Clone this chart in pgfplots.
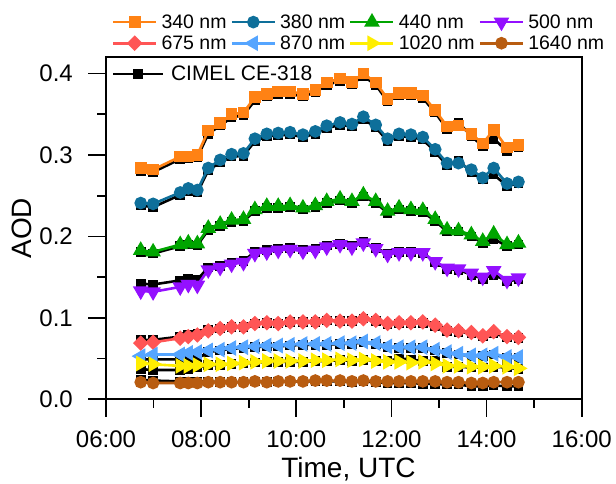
\documentclass[border=0pt]{standalone}
\usepackage{fontspec}
\setmainfont{Liberation Sans}
\usepackage{pgfplots}
\usepackage{pgfplotstable}
\pgfplotsset{compat=1.18}
\definecolor{c340}{HTML}{FF8214}
\definecolor{c380}{HTML}{0E6F9A}
\definecolor{c440}{HTML}{00A500}
\definecolor{c500}{HTML}{9410FF}
\definecolor{c675}{HTML}{FF5555}
\definecolor{c870}{HTML}{55A5FF}
\definecolor{c1020}{HTML}{FFEE00}
\definecolor{c1640}{HTML}{B85C10}
\pgfplotstableread{
t o340 k340 o380 k380 o440 k440 o500 k500 o675 k675 o870 k870 o1020 k1020 o1640 k1640
6.73 .284 .280 .241 .238 .183 .181 .133 .142 .069 .073 .053 .049 .044 .037 .021 .024
6.99 .282 .279 .240 .236 .181 .179 .132 .141 .070 .073 .055 .049 .043 .036 .020 .023
7.56 .298 .295 .254 .251 .190 .188 .138 .146 .075 .077 .055 .049 .041 .036 .020 .022
7.73 .298 .296 .259 .256 .192 .190 .141 .148 .077 .079 .057 .048 .041 .037 .020 .022
7.92 .300 .297 .257 .254 .191 .189 .140 .147 .079 .080 .058 .050 .042 .039 .020 .022
8.15 .330 .326 .284 .281 .210 .208 .159 .162 .084 .085 .060 .058 .043 .042 .021 .022
8.40 .339 .336 .294 .291 .215 .213 .162 .164 .087 .087 .061 .060 .043 .042 .021 .021
8.64 .350 .346 .301 .298 .220 .218 .166 .168 .089 .089 .063 .062 .044 .043 .021 .021
8.89 .352 .349 .302 .299 .221 .219 .168 .170 .089 .089 .064 .063 .045 .044 .021 .021
9.13 .371 .367 .320 .317 .233 .231 .179 .181 .093 .093 .065 .064 .046 .045 .022 .022
9.38 .375 .372 .326 .323 .237 .235 .181 .183 .094 .094 .066 .065 .047 .046 .021 .021
9.62 .378 .375 .327 .324 .237 .235 .183 .185 .093 .093 .066 .065 .047 .046 .022 .022
9.87 .378 .375 .328 .325 .238 .236 .184 .186 .095 .095 .067 .066 .047 .046 .022 .022
10.14 .375 .372 .325 .322 .235 .233 .182 .184 .095 .095 .068 .067 .047 .046 .022 .022
10.40 .380 .377 .329 .326 .238 .236 .183 .185 .095 .095 .068 .067 .048 .047 .023 .022
10.64 .389 .386 .336 .333 .243 .241 .187 .189 .097 .097 .068 .067 .048 .047 .023 .022
10.92 .394 .391 .340 .337 .246 .244 .190 .191 .096 .096 .069 .068 .049 .048 .023 .022
11.17 .390 .387 .338 .335 .243 .241 .187 .189 .096 .096 .069 .068 .048 .047 .022 .021
11.41 .400 .397 .347 .344 .251 .249 .192 .193 .099 .099 .071 .070 .049 .048 .023 .022
11.67 .389 .386 .337 .334 .243 .241 .185 .186 .097 .096 .069 .068 .047 .047 .022 .021
11.92 .369 .366 .320 .317 .231 .229 .178 .179 .093 .092 .065 .064 .046 .047 .022 .020
12.16 .376 .373 .326 .323 .235 .233 .180 .181 .094 .093 .064 .063 .046 .050 .022 .020
12.41 .376 .373 .325 .322 .233 .231 .180 .181 .094 .093 .064 .063 .045 .049 .022 .020
12.66 .373 .370 .322 .319 .232 .230 .180 .180 .095 .094 .064 .063 .046 .047 .022 .019
12.92 .355 .352 .307 .304 .221 .219 .169 .168 .091 .090 .061 .060 .044 .047 .022 .019
13.17 .335 .332 .290 .287 .208 .206 .161 .160 .085 .084 .058 .057 .041 .040 .021 .018
13.41 .336 .340 .290 .293 .207 .206 .160 .159 .084 .083 .056 .055 .041 .040 .021 .018
13.68 .326 .323 .282 .279 .202 .200 .155 .153 .082 .081 .054 .053 .040 .039 .020 .016
13.92 .314 .311 .272 .270 .194 .192 .150 .148 .078 .077 .054 .053 .040 .039 .020 .016
14.15 .331 .320 .284 .276 .203 .197 .158 .153 .083 .081 .056 .055 .041 .040 .021 .017
14.43 .309 .305 .265 .262 .190 .188 .146 .145 .077 .076 .052 .051 .040 .039 .021 .016
14.67 .312 .309 .267 .265 .192 .190 .149 .147 .076 .075 .052 .051 .038 .037 .021 .016
}\data
\pgfplotsset{
  base/.style={at={(106bp,84.7bp)}, anchor=south west, scale only axis,
    width=475.7bp, height=342bp, xmin=6, xmax=16, ymin=0, ymax=0.42},
  cim/.style={black, line width=2.6bp, mark=square*, mark size=3.5bp, mark options={solid}},
  ser/.style={#1, line width=2.6bp, mark options={solid, fill=#1, draw=#1}},
}
\begin{document}
\begin{tikzpicture}
\useasboundingbox (0,0) rectangle (616bp,484bp);
\begin{axis}[base,
  xtick={6,8,10,12,14,16}, xticklabels={06:00,08:00,10:00,12:00,14:00,16:00},
  minor xtick={7,9,11,13,15},
  ytick={0,0.1,0.2,0.3,0.4}, yticklabels={0.0,0.1,0.2,0.3,0.4},
  minor ytick={0.05,0.15,0.25,0.35},
  tick pos=left, tick align=outside,
  major tick length=17.5bp, minor tick length=8.5bp,
  every tick/.style={black, line width=1.8bp},
  axis line style={line width=1.8bp},
  tick label style={font=\fontsize{24bp}{28bp}\selectfont, inner sep=0pt},
  yticklabel style={xshift=-15.5bp},
  xticklabel style={yshift=-14bp},
  xlabel={Time, UTC}, ylabel={AOD},
  label style={font=\fontsize{28bp}{32bp}\selectfont},
  xlabel style={at={(axis description cs:0.5098,-0.2301)}, anchor=base},
  ylabel style={at={(axis description cs:-0.1766,0.5)}, anchor=center},
  legend style={at={(axis description cs:0.012,0.951)}, anchor=west,
    draw=none, fill=none, inner sep=0pt, column sep=6.5bp,
    font=\fontsize{21bp}{24bp}\selectfont, nodes={inner sep=0pt}},
  legend cell align=left,
  legend image code/.code={\draw[mark repeat=2,mark phase=2,#1] plot coordinates {(0bp,0bp) (25bp,0bp) (50bp,0bp)};},
]
\addplot[cim] table[x=t,y=k340]{\data};
\addlegendentry{CIMEL CE-318}
\addplot[cim, forget plot] table[x=t,y=k380]{\data};
\addplot[cim, forget plot] table[x=t,y=k440]{\data};
\addplot[cim, forget plot] table[x=t,y=k500]{\data};
\addplot[cim, forget plot] table[x=t,y=k675]{\data};
\addplot[cim, forget plot] table[x=t,y=k870]{\data};
\addplot[cim, forget plot] table[x=t,y=k1020]{\data};
\addplot[cim, forget plot] table[x=t,y=k1640]{\data};
\end{axis}
\begin{axis}[base, hide axis,
  legend style={at={(axis description cs:0.012,1.0720)}, anchor=west,
    draw=none, fill=none, inner sep=0pt, column sep=4bp, row sep=6bp,
    font=\fontsize{19.5bp}{22bp}\selectfont, nodes={inner sep=0pt}},
  legend columns=4, legend cell align=left,
  legend image code/.code={\draw[mark repeat=2,mark phase=2,#1] plot coordinates {(0bp,0bp) (21.5bp,0bp) (43bp,0bp)};},
]
\addplot[ser=c340, mark=square*, mark size=4.5bp] table[x=t,y=o340]{\data};
\addlegendentry{340 nm}
\addplot[ser=c380, mark=*, mark size=5bp] table[x=t,y=o380]{\data};
\addlegendentry{380 nm}
\addplot[ser=c440, mark=triangle*, mark size=6.5bp] table[x=t,y=o440]{\data};
\addlegendentry{440 nm}
\addplot[ser=c500, mark=triangle*, mark size=6.5bp, mark options={rotate=180}] table[x=t,y=o500]{\data};
\addlegendentry{500 nm}
\addplot[ser=c675, mark=square*, mark size=4.2bp, mark options={rotate=45}] table[x=t,y=o675]{\data};
\addlegendentry{675 nm}
\addplot[ser=c870, mark=triangle*, mark size=6.5bp, mark options={rotate=90}] table[x=t,y=o870]{\data};
\addlegendentry{870 nm}
\addplot[ser=c1020, mark=triangle*, mark size=6.5bp, mark options={rotate=-90}] table[x=t,y=o1020]{\data};
\addlegendentry{1020 nm}
\addplot[ser=c1640, mark=*, mark size=5bp] table[x=t,y=o1640]{\data};
\addlegendentry{1640 nm}
\end{axis}
\end{tikzpicture}
\end{document}
